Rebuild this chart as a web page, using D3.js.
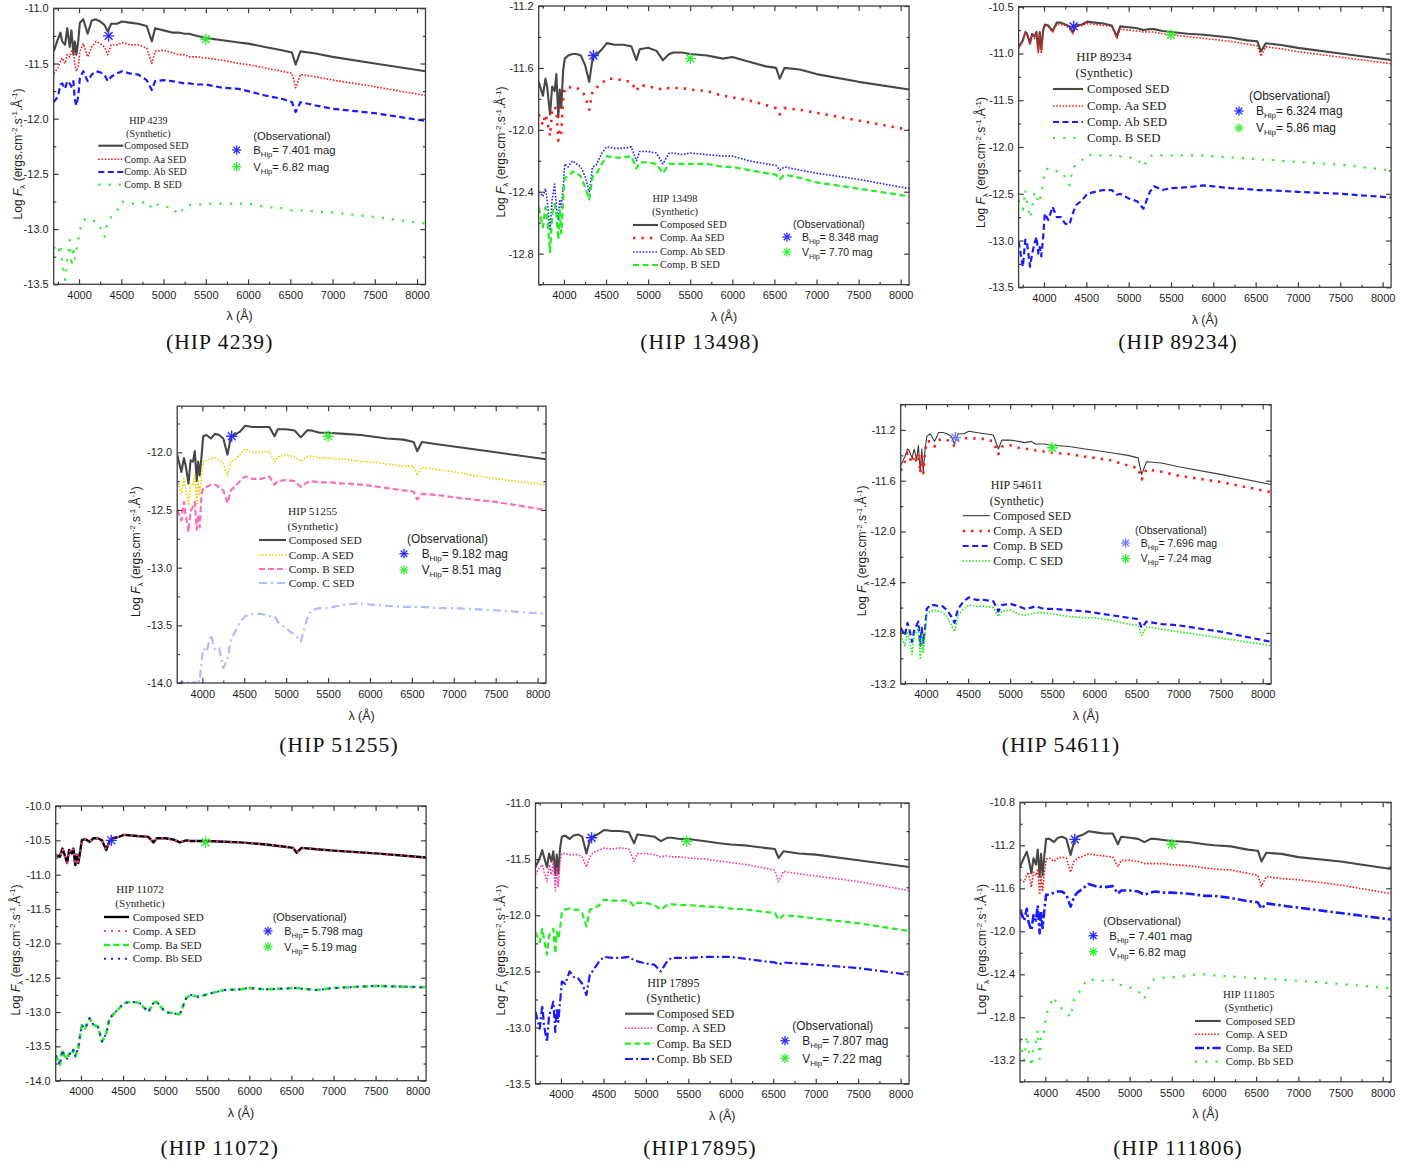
<!DOCTYPE html>
<html>
<head>
<meta charset="utf-8">
<script src="https://cdn.jsdelivr.net/npm/d3@7"></script>
<style>
  body { margin: 0; background: #fff; }
  svg { display: block; }
</style>
</head>
<body>
<svg id="fig" width="1422" height="1165"></svg>
<script>
// Wavelength grid (Å) shared by every synthetic SED below
const wavelengths = [3700, 3750, 3780, 3800, 3835, 3860, 3889, 3910, 3933, 3950, 3968, 3990, 4010, 4050, 4102, 4150, 4200, 4250, 4300, 4340, 4380, 4450, 4510, 4600, 4700, 4800, 4861, 4900, 5000, 5100, 5175, 5250, 5300, 5400, 5500, 5700, 5890, 6000, 6200, 6400, 6520, 6563, 6620, 6800, 7000, 7500, 8100];
const xTickValues = [4000, 4500, 5000, 5500, 6000, 6500, 7000, 7500, 8000];
const xMinorTicks = [3750, 4250, 4750, 5250, 5750, 6250, 6750, 7250, 7750];
const xDomain = [3700, 8100];

// ---- HIP 4239 (log F_lambda)
const hip4239Composed = [-11.39,-11.28,-11.22,-11.30,-11.33,-11.18,-11.35,-11.20,-11.42,-11.30,-11.42,-11.30,-11.13,-11.10,-11.23,-11.11,-11.10,-11.12,-11.15,-11.21,-11.14,-11.14,-11.12,-11.13,-11.14,-11.16,-11.30,-11.18,-11.20,-11.22,-11.22,-11.23,-11.23,-11.25,-11.27,-11.29,-11.31,-11.32,-11.35,-11.38,-11.40,-11.51,-11.39,-11.41,-11.44,-11.50,-11.57];
const hip4239CompAa = [-11.59,-11.54,-11.48,-11.45,-11.50,-11.42,-11.44,-11.39,-11.38,-11.51,-11.57,-11.53,-11.39,-11.32,-11.44,-11.35,-11.30,-11.32,-11.35,-11.42,-11.33,-11.33,-11.31,-11.33,-11.33,-11.36,-11.50,-11.39,-11.38,-11.40,-11.42,-11.42,-11.44,-11.44,-11.45,-11.47,-11.50,-11.51,-11.54,-11.57,-11.59,-11.72,-11.60,-11.62,-11.65,-11.71,-11.79];
const hip4239CompAb = [-11.85,-11.80,-11.69,-11.68,-11.73,-11.66,-11.68,-11.71,-11.66,-11.83,-11.88,-11.80,-11.63,-11.57,-11.66,-11.60,-11.57,-11.58,-11.60,-11.66,-11.62,-11.59,-11.57,-11.59,-11.60,-11.65,-11.74,-11.66,-11.65,-11.66,-11.67,-11.68,-11.68,-11.69,-11.69,-11.72,-11.73,-11.75,-11.79,-11.82,-11.85,-11.94,-11.85,-11.88,-11.91,-11.95,-12.02];
const hip4239CompB = [-13.16,-13.22,-13.14,-13.31,-13.46,-13.28,-13.10,-13.34,-13.16,-13.28,-13.19,-13.10,-13.01,-12.92,-12.90,-12.92,-12.93,-12.98,-13.07,-12.93,-12.89,-12.83,-12.75,-12.77,-12.77,-12.75,-12.81,-12.77,-12.80,-12.80,-12.87,-12.80,-12.78,-12.78,-12.77,-12.77,-12.77,-12.77,-12.80,-12.81,-12.83,-12.83,-12.83,-12.84,-12.85,-12.89,-12.95];

// ---- HIP 13498
const hip13498Composed = [-11.69,-11.78,-11.67,-11.72,-11.90,-11.72,-11.75,-11.64,-11.92,-11.74,-11.86,-11.62,-11.54,-11.52,-11.51,-11.51,-11.52,-11.58,-11.69,-11.54,-11.52,-11.48,-11.44,-11.45,-11.45,-11.46,-11.55,-11.48,-11.47,-11.49,-11.55,-11.51,-11.50,-11.50,-11.51,-11.52,-11.54,-11.53,-11.56,-11.59,-11.60,-11.67,-11.60,-11.61,-11.64,-11.69,-11.74];
const hip13498CompAa = [-11.90,-11.97,-11.90,-11.94,-12.04,-11.87,-11.85,-11.87,-12.07,-11.99,-12.02,-11.81,-11.73,-11.73,-11.72,-11.73,-11.74,-11.78,-11.87,-11.75,-11.73,-11.70,-11.67,-11.67,-11.68,-11.69,-11.75,-11.71,-11.72,-11.73,-11.74,-11.73,-11.73,-11.73,-11.74,-11.75,-11.78,-11.79,-11.81,-11.84,-11.86,-11.90,-11.86,-11.87,-11.89,-11.94,-12.00];
const hip13498CompAb = [-12.40,-12.43,-12.38,-12.45,-12.65,-12.45,-12.35,-12.50,-12.58,-12.45,-12.50,-12.37,-12.22,-12.24,-12.20,-12.22,-12.24,-12.30,-12.40,-12.24,-12.23,-12.15,-12.11,-12.12,-12.12,-12.11,-12.20,-12.14,-12.14,-12.15,-12.22,-12.15,-12.15,-12.16,-12.15,-12.16,-12.17,-12.17,-12.20,-12.22,-12.23,-12.26,-12.24,-12.26,-12.28,-12.32,-12.38];
const hip13498CompB = [-12.50,-12.63,-12.50,-12.56,-12.79,-12.54,-12.48,-12.54,-12.71,-12.52,-12.67,-12.45,-12.31,-12.30,-12.27,-12.28,-12.30,-12.37,-12.45,-12.30,-12.29,-12.22,-12.17,-12.18,-12.18,-12.17,-12.25,-12.21,-12.21,-12.22,-12.28,-12.22,-12.22,-12.22,-12.22,-12.22,-12.24,-12.24,-12.26,-12.28,-12.29,-12.32,-12.29,-12.31,-12.34,-12.38,-12.43];

// ---- HIP 89234
const hip89234Composed = [-10.93,-10.86,-10.77,-10.79,-10.89,-10.79,-10.82,-10.77,-10.96,-10.77,-10.96,-10.75,-10.69,-10.70,-10.76,-10.67,-10.67,-10.69,-10.71,-10.77,-10.70,-10.69,-10.66,-10.67,-10.68,-10.70,-10.82,-10.71,-10.72,-10.73,-10.75,-10.74,-10.74,-10.76,-10.77,-10.79,-10.80,-10.81,-10.83,-10.86,-10.87,-10.98,-10.89,-10.91,-10.94,-11.00,-11.07];
const hip89234CompAa = [-10.95,-10.87,-10.78,-10.80,-10.91,-10.80,-10.84,-10.78,-11.00,-10.79,-11.00,-10.77,-10.70,-10.71,-10.77,-10.69,-10.69,-10.70,-10.73,-10.79,-10.71,-10.70,-10.68,-10.69,-10.70,-10.71,-10.84,-10.74,-10.75,-10.76,-10.77,-10.77,-10.77,-10.79,-10.80,-10.82,-10.84,-10.85,-10.87,-10.90,-10.92,-11.03,-10.93,-10.95,-10.98,-11.04,-11.11];
const hip89234CompAb = [-13.01,-13.28,-12.99,-13.03,-13.28,-13.14,-13.03,-12.96,-13.14,-13.07,-13.17,-12.96,-12.71,-12.78,-12.64,-12.75,-12.75,-12.82,-12.83,-12.71,-12.62,-12.57,-12.50,-12.48,-12.46,-12.46,-12.51,-12.50,-12.55,-12.58,-12.66,-12.48,-12.42,-12.46,-12.44,-12.43,-12.41,-12.42,-12.44,-12.45,-12.46,-12.46,-12.46,-12.47,-12.48,-12.50,-12.54];
const hip89234CompB = [-12.57,-12.67,-12.46,-12.60,-12.76,-12.64,-12.48,-12.50,-12.60,-12.57,-12.50,-12.37,-12.25,-12.23,-12.23,-12.26,-12.26,-12.32,-12.41,-12.23,-12.19,-12.14,-12.08,-12.09,-12.09,-12.09,-12.11,-12.10,-12.11,-12.13,-12.21,-12.10,-12.08,-12.09,-12.09,-12.09,-12.09,-12.10,-12.11,-12.12,-12.13,-12.14,-12.13,-12.15,-12.16,-12.19,-12.25];

// ---- HIP 51255
const hip51255Composed = [-12.02,-12.17,-12.05,-12.11,-12.27,-12.07,-12.08,-11.99,-12.25,-12.08,-12.20,-12.04,-11.86,-11.85,-11.88,-11.84,-11.85,-11.88,-12.02,-11.87,-11.85,-11.82,-11.77,-11.78,-11.78,-11.78,-11.86,-11.80,-11.80,-11.81,-11.87,-11.81,-11.81,-11.83,-11.83,-11.84,-11.85,-11.86,-11.88,-11.89,-11.91,-11.99,-11.91,-11.93,-11.95,-12.00,-12.06];
const hip51255CompA = [-12.24,-12.36,-12.23,-12.30,-12.46,-12.27,-12.28,-12.20,-12.46,-12.25,-12.37,-12.20,-12.08,-12.07,-12.05,-12.05,-12.07,-12.10,-12.20,-12.08,-12.07,-12.02,-11.97,-12.00,-12.00,-11.99,-12.08,-12.04,-12.02,-12.04,-12.08,-12.04,-12.03,-12.05,-12.05,-12.06,-12.08,-12.08,-12.10,-12.12,-12.12,-12.20,-12.13,-12.15,-12.17,-12.23,-12.28];
const hip51255CompB = [-12.50,-12.59,-12.43,-12.54,-12.69,-12.51,-12.47,-12.43,-12.67,-12.54,-12.65,-12.37,-12.31,-12.30,-12.28,-12.28,-12.30,-12.33,-12.44,-12.33,-12.30,-12.25,-12.21,-12.23,-12.23,-12.21,-12.28,-12.25,-12.24,-12.25,-12.30,-12.26,-12.25,-12.26,-12.26,-12.27,-12.28,-12.29,-12.31,-12.33,-12.34,-12.41,-12.36,-12.37,-12.39,-12.43,-12.50];
const hip51255CompC = [-14.01,-13.99,-14.00,-13.98,-14.00,-13.99,-14.00,-13.99,-14.02,-13.98,-13.99,-13.82,-13.70,-13.73,-13.58,-13.71,-13.70,-13.87,-13.79,-13.63,-13.57,-13.47,-13.42,-13.40,-13.40,-13.42,-13.42,-13.47,-13.53,-13.58,-13.64,-13.44,-13.37,-13.35,-13.35,-13.32,-13.31,-13.32,-13.33,-13.34,-13.34,-13.34,-13.34,-13.35,-13.35,-13.37,-13.40];

// ---- HIP 54611
const hip54611Composed = [-11.48,-11.41,-11.35,-11.36,-11.42,-11.35,-11.44,-11.32,-11.53,-11.35,-11.53,-11.35,-11.25,-11.23,-11.29,-11.22,-11.22,-11.23,-11.25,-11.31,-11.23,-11.23,-11.21,-11.22,-11.23,-11.24,-11.35,-11.28,-11.28,-11.29,-11.30,-11.29,-11.31,-11.31,-11.32,-11.33,-11.35,-11.36,-11.38,-11.40,-11.42,-11.55,-11.45,-11.46,-11.49,-11.55,-11.63];
const hip54611CompA = [-11.52,-11.45,-11.38,-11.41,-11.46,-11.40,-11.45,-11.38,-11.54,-11.40,-11.54,-11.37,-11.29,-11.29,-11.33,-11.28,-11.27,-11.28,-11.29,-11.33,-11.28,-11.27,-11.26,-11.27,-11.27,-11.29,-11.39,-11.33,-11.32,-11.34,-11.35,-11.35,-11.36,-11.37,-11.38,-11.39,-11.41,-11.42,-11.44,-11.48,-11.50,-11.59,-11.51,-11.53,-11.56,-11.61,-11.69];
const hip54611CompB = [-12.76,-12.82,-12.72,-12.76,-12.87,-12.78,-12.74,-12.71,-12.90,-12.76,-12.88,-12.76,-12.61,-12.58,-12.58,-12.59,-12.59,-12.62,-12.67,-12.72,-12.61,-12.55,-12.52,-12.54,-12.54,-12.55,-12.63,-12.58,-12.57,-12.59,-12.61,-12.60,-12.59,-12.61,-12.61,-12.62,-12.63,-12.64,-12.66,-12.68,-12.69,-12.76,-12.71,-12.73,-12.74,-12.79,-12.87];
const hip54611CompC = [-12.82,-12.90,-12.79,-12.84,-12.97,-12.82,-12.79,-12.76,-13.01,-12.82,-12.96,-12.80,-12.65,-12.63,-12.62,-12.63,-12.64,-12.67,-12.74,-12.79,-12.66,-12.61,-12.58,-12.59,-12.59,-12.60,-12.67,-12.63,-12.62,-12.65,-12.66,-12.65,-12.64,-12.64,-12.65,-12.67,-12.68,-12.68,-12.70,-12.73,-12.74,-12.82,-12.75,-12.77,-12.79,-12.84,-12.90];

// ---- HIP 11072 (component A coincides with the composed SED, Ba with Bb)
const hip11072Composed = [-10.71,-10.74,-10.62,-10.69,-10.83,-10.64,-10.69,-10.62,-10.86,-10.71,-10.83,-10.67,-10.50,-10.48,-10.52,-10.47,-10.47,-10.50,-10.64,-10.51,-10.47,-10.45,-10.42,-10.43,-10.44,-10.45,-10.53,-10.47,-10.47,-10.49,-10.53,-10.50,-10.51,-10.51,-10.51,-10.52,-10.53,-10.54,-10.56,-10.59,-10.61,-10.68,-10.61,-10.63,-10.65,-10.69,-10.75];
const hip11072CompA = [-10.71,-10.74,-10.62,-10.69,-10.83,-10.64,-10.69,-10.62,-10.86,-10.71,-10.83,-10.67,-10.50,-10.48,-10.52,-10.47,-10.47,-10.50,-10.64,-10.51,-10.47,-10.45,-10.42,-10.43,-10.44,-10.45,-10.53,-10.47,-10.47,-10.49,-10.53,-10.50,-10.51,-10.51,-10.51,-10.52,-10.53,-10.54,-10.56,-10.59,-10.61,-10.68,-10.61,-10.63,-10.65,-10.69,-10.75];
const hip11072CompBa = [-13.63,-13.77,-13.55,-13.63,-13.68,-13.60,-13.63,-13.55,-13.65,-13.58,-13.53,-13.34,-13.19,-13.24,-13.09,-13.19,-13.21,-13.43,-13.31,-13.09,-13.04,-12.95,-12.87,-12.85,-12.87,-13.00,-12.87,-12.85,-13.00,-13.02,-13.03,-12.80,-12.75,-12.78,-12.74,-12.68,-12.67,-12.65,-12.67,-12.66,-12.65,-12.65,-12.66,-12.68,-12.65,-12.62,-12.64];
const hip11072CompBb = [-13.63,-13.77,-13.55,-13.63,-13.68,-13.60,-13.63,-13.55,-13.65,-13.58,-13.53,-13.34,-13.19,-13.24,-13.09,-13.19,-13.21,-13.43,-13.31,-13.09,-13.04,-12.95,-12.87,-12.85,-12.87,-13.00,-12.87,-12.85,-13.00,-13.02,-13.03,-12.80,-12.75,-12.78,-12.74,-12.68,-12.67,-12.65,-12.67,-12.66,-12.65,-12.65,-12.66,-12.68,-12.65,-12.62,-12.64];

// ---- HIP 17895
const hip17895Composed = [-11.57,-11.49,-11.42,-11.48,-11.57,-11.45,-11.52,-11.43,-11.64,-11.46,-11.63,-11.40,-11.30,-11.29,-11.32,-11.29,-11.28,-11.30,-11.45,-11.33,-11.30,-11.27,-11.24,-11.25,-11.25,-11.26,-11.36,-11.28,-11.29,-11.30,-11.34,-11.31,-11.31,-11.32,-11.32,-11.34,-11.36,-11.37,-11.38,-11.40,-11.41,-11.49,-11.43,-11.45,-11.46,-11.51,-11.57];
const hip17895CompA = [-11.64,-11.57,-11.55,-11.61,-11.70,-11.55,-11.64,-11.52,-11.78,-11.57,-11.75,-11.52,-11.45,-11.45,-11.46,-11.46,-11.46,-11.48,-11.57,-11.48,-11.44,-11.42,-11.40,-11.41,-11.40,-11.41,-11.52,-11.45,-11.45,-11.46,-11.48,-11.47,-11.48,-11.48,-11.49,-11.50,-11.52,-11.53,-11.55,-11.58,-11.60,-11.70,-11.61,-11.63,-11.65,-11.70,-11.78];
const hip17895CompBa = [-12.15,-12.24,-12.12,-12.21,-12.35,-12.18,-12.15,-12.12,-12.34,-12.15,-12.21,-12.12,-11.97,-11.95,-11.94,-11.95,-11.95,-11.98,-12.10,-11.95,-11.94,-11.91,-11.86,-11.87,-11.87,-11.87,-11.92,-11.89,-11.89,-11.91,-11.95,-11.91,-11.90,-11.91,-11.91,-11.92,-11.93,-11.94,-11.95,-11.97,-11.98,-12.04,-12.00,-12.01,-12.03,-12.07,-12.14];
const hip17895CompBb = [-12.86,-13.01,-12.80,-12.98,-13.13,-12.89,-12.83,-12.77,-13.04,-12.83,-12.95,-12.77,-12.59,-12.61,-12.50,-12.55,-12.56,-12.61,-12.71,-12.53,-12.49,-12.41,-12.37,-12.38,-12.38,-12.37,-12.40,-12.41,-12.43,-12.44,-12.50,-12.41,-12.38,-12.38,-12.38,-12.37,-12.37,-12.37,-12.39,-12.41,-12.42,-12.44,-12.42,-12.43,-12.44,-12.47,-12.53];

// ---- HIP 111805
const hip111805Composed = [-11.40,-11.31,-11.26,-11.32,-11.46,-11.32,-11.38,-11.24,-11.49,-11.28,-11.48,-11.29,-11.14,-11.14,-11.17,-11.13,-11.12,-11.14,-11.29,-11.17,-11.12,-11.10,-11.07,-11.08,-11.09,-11.09,-11.19,-11.12,-11.13,-11.14,-11.17,-11.14,-11.14,-11.15,-11.16,-11.17,-11.19,-11.20,-11.21,-11.24,-11.25,-11.35,-11.27,-11.28,-11.31,-11.35,-11.42];
const hip111805CompA = [-11.52,-11.54,-11.48,-11.45,-11.59,-11.45,-11.48,-11.42,-11.66,-11.48,-11.63,-11.45,-11.33,-11.32,-11.35,-11.32,-11.31,-11.32,-11.45,-11.35,-11.32,-11.30,-11.28,-11.29,-11.30,-11.31,-11.40,-11.34,-11.34,-11.35,-11.37,-11.37,-11.37,-11.37,-11.38,-11.39,-11.41,-11.42,-11.43,-11.46,-11.48,-11.58,-11.49,-11.51,-11.52,-11.57,-11.65];
const hip111805CompBa = [-11.80,-11.90,-11.79,-11.91,-11.99,-11.85,-11.90,-11.76,-12.02,-11.82,-11.97,-11.79,-11.66,-11.66,-11.64,-11.63,-11.63,-11.66,-11.77,-11.68,-11.64,-11.60,-11.56,-11.58,-11.59,-11.58,-11.65,-11.62,-11.62,-11.63,-11.66,-11.64,-11.63,-11.64,-11.64,-11.65,-11.67,-11.67,-11.69,-11.72,-11.73,-11.79,-11.74,-11.76,-11.78,-11.83,-11.89];
const hip111805CompBb = [-13.01,-13.20,-12.97,-13.09,-13.26,-13.06,-13.03,-12.92,-13.19,-13.00,-13.01,-12.91,-12.78,-12.69,-12.61,-12.70,-12.72,-12.75,-12.80,-12.63,-12.60,-12.50,-12.44,-12.46,-12.46,-12.45,-12.50,-12.50,-12.52,-12.55,-12.63,-12.47,-12.44,-12.43,-12.43,-12.41,-12.40,-12.41,-12.42,-12.43,-12.44,-12.44,-12.44,-12.45,-12.46,-12.49,-12.53];

// Hipparcos photometry converted to flux: [lambda (Å), log F]
const obsBHip = [[4350,-11.25],[4350,-11.52],[4350,-10.71],[4350,-11.86],[4350,-11.26],[4360,-10.50],[4360,-11.31],[4350,-11.145]];
const obsVHip = [[5500,-11.28],[5500,-11.54],[5500,-10.80],[5500,-11.86],[5500,-11.34],[5480,-10.53],[5480,-11.34],[5500,-11.19]];
const magBHip = ["7.401", "8.348", "6.324", "9.182", "7.696", "5.798", "7.807", "7.401"];
const magVHip = ["6.82", "7.70", "5.86", "8.51", "7.24", "5.19", "7.22", "6.82"];

const systemNames = ["HIP 4239", "HIP 13498", "HIP 89234", "HIP 51255", "HIP 54611", "HIP 11072", "HIP 17895", "HIP 111805"];
const captions = ["(HIP 4239)", "(HIP 13498)", "(HIP 89234)", "(HIP 51255)", "(HIP 54611)", "(HIP 11072)", "(HIP17895)", "(HIP 111806)"];

// ---------------- line styles
const GRAY = "#474747";
const st = {
  composed: { color: GRAY, width: 2.1, dash: null },
  composedThin: { color: "#3a3a3a", width: 1.1, dash: null },
  composedBlack: { color: "#000", width: 2.4, dash: null },
  redDense: { color: "#ff1a1a", width: 1.6, dash: "1.6,1.6" },
  redSparse: { color: "#ff1a1a", width: 2.6, dash: "2.4,6" },
  blueDash: { color: "#1a1aff", width: 2.2, dash: "6,3.5" },
  blueDotDense: { color: "#2222ff", width: 1.6, dash: "1.6,1.6" },
  greenSparse: { color: "#33ee33", width: 2.2, dash: "2.2,8" },
  greenDash: { color: "#22ee22", width: 2.2, dash: "6,3.5" },
  greenDotDense: { color: "#22ee22", width: 1.6, dash: "1.6,1.6" },
  yellowDense: { color: "#e4d600", width: 1.6, dash: "1.6,1.6" },
  pinkDash: { color: "#ff6db6", width: 2.2, dash: "6,3" },
  lavenderDashDot: { color: "#b4baff", width: 2.2, dash: "8,4,2,4" },
  pinkDotted: { color: "#ff3c8c", width: 2.2, dash: "2,5" },
  greenDashWide: { color: "#22ee22", width: 2.6, dash: "6,3.5" },
  blueDotted: { color: "#2222ff", width: 2.0, dash: "2,5" },
  magentaDense: { color: "#ff33aa", width: 1.6, dash: "1.6,1.6" },
  blueDashDot: { color: "#1a1aff", width: 2.2, dash: "8,3,2,3" },
  blueDashDotWide: { color: "#1a1aff", width: 2.6, dash: "9,3,2.5,3" }
};

// ---------------- panel layout
const panels = [
  { frame: { l: 53.7, r: 425.5, t: 8.3, b: 284.3 }, yDomain: [-13.5, -11.0], yStep: 0.5,
    series: [["Composed SED", hip4239Composed, st.composed], ["Comp. Aa SED", hip4239CompAa, st.redDense], ["Comp. Ab SED", hip4239CompAb, st.blueDash], ["Comp. B SED", hip4239CompB, st.greenSparse]],
    yTitle: [21.5, 154], xTitleY: 315, caption: [219.7, 348.5],
    leg: { cx: 148.3, ty: [121, 134], x1: 98.3, x2: 123.3, tx: 124.3, rows: [145.7, 159.3, 172, 184.7], fs: 10 },
    obs: { titleX: 253.3, ty: 136, mx: 236.7, tx: 253.3, rows: [150, 166.7], fs: 11.3 }, bColor: "#2b2bff" },
  { frame: { l: 538.7, r: 909.1, t: 6, b: 284.6 }, yDomain: [-13.0, -11.2], yStep: 0.4,
    series: [["Composed SED", hip13498Composed, st.composed], ["Comp. Aa SED", hip13498CompAa, st.redSparse], ["Comp. Ab SED", hip13498CompAb, st.blueDotDense], ["Comp. B SED", hip13498CompB, st.greenDash]],
    yTitle: [505, 152], xTitleY: 316, caption: [700, 348.5],
    leg: { cx: 675, ty: [199, 212], x1: 633, x2: 658, tx: 660, rows: [225, 238, 252, 265], fs: 10.4 },
    obs: { titleX: 793, ty: 224, mx: 787, tx: 802, rows: [237, 252], fs: 10.5 }, bColor: "#2b2bff" },
  { frame: { l: 1018.6, r: 1391.1, t: 6.7, b: 287.3 }, yDomain: [-13.5, -10.5], yStep: 0.5,
    series: [["Composed SED", hip89234Composed, st.composed], ["Comp. Aa SED", hip89234CompAa, st.redDense], ["Comp. Ab SED", hip89234CompAb, st.blueDash], ["Comp. B SED", hip89234CompB, st.greenSparse]],
    yTitle: [985, 162.5], xTitleY: 319.3, caption: [1178, 348.5],
    leg: { cx: 1104, ty: [57, 73], x1: 1053, x2: 1083, tx: 1087, rows: [89, 106, 122, 138], fs: 12.8 },
    obs: { titleX: 1249, ty: 96, mx: 1239, tx: 1256, rows: [111, 128], fs: 11.9 }, bColor: "#2b2bff" },
  { frame: { l: 177.2, r: 546.0, t: 406.2, b: 683 }, yDomain: [-14.0, -11.6], yStep: 0.5,
    series: [["Composed SED", hip51255Composed, st.composed], ["Comp. A SED", hip51255CompA, st.yellowDense], ["Comp. B SED", hip51255CompB, st.pinkDash], ["Comp. C SED", hip51255CompC, st.lavenderDashDot]],
    yTitle: [139.5, 551.7], xTitleY: 715, caption: [339, 752],
    leg: { cx: 312.7, ty: [511.7, 526], x1: 259, x2: 286, tx: 288.7, rows: [540, 555, 569, 583], fs: 11.4 },
    obs: { titleX: 407, ty: 538.7, mx: 404, tx: 421.7, rows: [553.7, 570], fs: 11.85 }, bColor: "#2b2bff" },
  { frame: { l: 900.7, r: 1271.1, t: 404.6, b: 683.7 }, yDomain: [-13.2, -11.0], yStep: 0.4,
    series: [["Composed SED", hip54611Composed, st.composedThin], ["Comp. A SED", hip54611CompA, st.redSparse], ["Comp. B SED", hip54611CompB, st.blueDash], ["Comp. C SED", hip54611CompC, st.greenDotDense]],
    yTitle: [866, 550.8], xTitleY: 715, caption: [1061, 752],
    leg: { cx: 1016.7, ty: [485, 501], x1: 962.7, x2: 990, tx: 993.3, rows: [515.7, 531, 546, 561], fs: 12.1 },
    obs: { titleX: 1135, ty: 530.7, mx: 1125.7, tx: 1140.7, rows: [543, 558.7], fs: 10.5 }, bColor: "#7480ff" },
  { frame: { l: 55.7, r: 426.1, t: 806, b: 1080.7 }, yDomain: [-14.0, -10.0], yStep: 0.5,
    series: [["Composed SED", hip11072Composed, st.composedBlack], ["Comp. A SED", hip11072CompA, st.pinkDotted], ["Comp. Ba SED", hip11072CompBa, st.greenDashWide], ["Comp. Bb SED", hip11072CompBb, st.blueDotted]],
    yTitle: [19.5, 950], xTitleY: 1112.3, caption: [219.7, 1155],
    leg: { cx: 140, ty: [889.7, 903.3], x1: 104, x2: 129, tx: 132.7, rows: [917, 931, 945, 958.7], fs: 11.1 },
    obs: { titleX: 272.7, ty: 917.3, mx: 268, tx: 284.3, rows: [931, 946.7], fs: 10.8 }, bColor: "#2b2bff" },
  { frame: { l: 535.5, r: 909.1, t: 803, b: 1083.7 }, yDomain: [-13.5, -11.0], yStep: 0.5,
    series: [["Composed SED", hip17895Composed, st.composed], ["Comp. A SED", hip17895CompA, st.magentaDense], ["Comp. Ba SED", hip17895CompBa, st.greenDash], ["Comp. Bb SED", hip17895CompBb, st.blueDashDot]],
    yTitle: [505, 950], xTitleY: 1115.7, caption: [700, 1155],
    leg: { cx: 673.3, ty: [983.3, 998.3], x1: 625, x2: 654, tx: 656.7, rows: [1013.7, 1028.3, 1043.7, 1059], fs: 12.1 },
    obs: { titleX: 792.3, ty: 1026, mx: 785, tx: 802.3, rows: [1040.7, 1058.3], fs: 11.85 }, bColor: "#2b2bff" },
  { frame: { l: 1020.0, r: 1391.1, t: 802.3, b: 1081.8 }, yDomain: [-13.4, -10.8], yStep: 0.4,
    series: [["Composed SED", hip111805Composed, st.composed], ["Comp. A SED", hip111805CompA, st.redDense], ["Comp. Ba SED", hip111805CompBa, st.blueDashDotWide], ["Comp. Bb SED", hip111805CompBb, st.greenSparse]],
    yTitle: [986, 949.3], xTitleY: 1113.3, caption: [1178, 1155],
    leg: { cx: 1248.7, ty: [994, 1007.3], x1: 1195, x2: 1220.7, tx: 1225.7, rows: [1021, 1034.3, 1048, 1061.7], fs: 10.8 },
    obs: { titleX: 1103.3, ty: 921, mx: 1093.3, tx: 1109.3, rows: [935.7, 951.7], fs: 11.4 }, bColor: "#2b2bff" }
];

const SANS = "'Liberation Sans', Arial, Helvetica, sans-serif";
const SERIF = "'Liberation Serif', 'Times New Roman', serif";
const FRAME = "#3c3c3c";
const V_COLOR = "#33ee33";
const fmt1 = v => (Math.round(v * 10) / 10).toFixed(1);

const svg = d3.select("#fig");
svg.append("rect").attr("width", 1422).attr("height", 1165).attr("fill", "#fff");
const defs = svg.append("defs");

function styleLine(sel, s) {
  sel.attr("fill", "none").attr("stroke", s.color).attr("stroke-width", s.width)
    .attr("stroke-linejoin", "round").attr("stroke-linecap", "butt");
  if (s.dash) sel.attr("stroke-dasharray", s.dash);
  return sel;
}

function asterisk(g, cx, cy, r, color, w) {
  [0, 45, 90, 135].forEach(a => {
    const rad = a * Math.PI / 180;
    const dx = Math.cos(rad) * r, dy = Math.sin(rad) * r;
    g.append("line").attr("x1", cx - dx).attr("y1", cy - dy).attr("x2", cx + dx).attr("y2", cy + dy)
      .attr("stroke", color).attr("stroke-width", w);
  });
}

panels.forEach((p, i) => {
  const g = svg.append("g");
  const f = p.frame;
  const x = d3.scaleLinear().domain(xDomain).range([f.l, f.r]);
  const y = d3.scaleLinear().domain(p.yDomain).range([f.b, f.t]);

  // y ticks: labelled majors every yStep, minors halfway between
  const half = p.yStep / 2;
  const n = Math.floor((p.yDomain[1] - p.yDomain[0]) / half + 1e-6);
  const all = [];
  for (let k = 0; k <= n; k++) all.push(+(p.yDomain[0] + k * half).toFixed(3));
  const isMajor = v => Math.abs(v / p.yStep - Math.round(v / p.yStep)) < 1e-6;
  const yMajor = all.filter(isMajor);
  const yMinor = all.filter(v => !isMajor(v));

  // clip region for the spectra
  const cid = "clip" + i;
  defs.append("clipPath").attr("id", cid).append("rect")
    .attr("x", f.l).attr("y", f.t).attr("width", f.r - f.l).attr("height", f.b - f.t);

  const line = d3.line().x((d, k) => x(wavelengths[k])).y(d => y(d));
  const lines = g.append("g").attr("clip-path", `url(#${cid})`);
  p.series.forEach(s => {
    styleLine(lines.append("path").datum(s[1]).attr("d", line), s[2]);
  });

  // Hipparcos points
  asterisk(lines, x(obsBHip[i][0]), y(obsBHip[i][1]), 5.6, p.bColor, 1.4);
  asterisk(lines, x(obsVHip[i][0]), y(obsVHip[i][1]), 5.6, V_COLOR, 1.4);

  // axes with inward ticks on all four sides
  const axisStyle = sel => {
    sel.select(".domain").remove();
    sel.selectAll("line").attr("stroke", FRAME).attr("stroke-width", 1.2);
    sel.selectAll("text").attr("font-family", SANS).attr("font-size", 11).attr("fill", "#1e1e1e");
  };
  g.append("g").attr("transform", `translate(0,${f.b})`)
    .call(d3.axisBottom(x).tickValues(xTickValues).tickSizeInner(-5).tickSizeOuter(0).tickPadding(7).tickFormat(d3.format("d")))
    .call(axisStyle);
  g.append("g").attr("transform", `translate(0,${f.b})`)
    .call(d3.axisBottom(x).tickValues(xMinorTicks).tickSizeInner(-2.6).tickSizeOuter(0).tickFormat(""))
    .call(axisStyle);
  g.append("g").attr("transform", `translate(0,${f.t})`)
    .call(d3.axisTop(x).tickValues(xTickValues).tickSizeInner(-5).tickSizeOuter(0).tickFormat(""))
    .call(axisStyle);
  g.append("g").attr("transform", `translate(0,${f.t})`)
    .call(d3.axisTop(x).tickValues(xMinorTicks).tickSizeInner(-2.6).tickSizeOuter(0).tickFormat(""))
    .call(axisStyle);
  g.append("g").attr("transform", `translate(${f.l},0)`)
    .call(d3.axisLeft(y).tickValues(yMajor).tickSizeInner(-5).tickSizeOuter(0).tickPadding(5).tickFormat(fmt1))
    .call(axisStyle);
  g.append("g").attr("transform", `translate(${f.l},0)`)
    .call(d3.axisLeft(y).tickValues(yMinor).tickSizeInner(-2.6).tickSizeOuter(0).tickFormat(""))
    .call(axisStyle);
  g.append("g").attr("transform", `translate(${f.r},0)`)
    .call(d3.axisRight(y).tickValues(yMajor).tickSizeInner(-5).tickSizeOuter(0).tickFormat(""))
    .call(axisStyle);
  g.append("g").attr("transform", `translate(${f.r},0)`)
    .call(d3.axisRight(y).tickValues(yMinor).tickSizeInner(-2.6).tickSizeOuter(0).tickFormat(""))
    .call(axisStyle);

  g.append("rect").attr("x", f.l).attr("y", f.t).attr("width", f.r - f.l).attr("height", f.b - f.t)
    .attr("fill", "none").attr("stroke", FRAME).attr("stroke-width", 1.3);

  // axis titles
  g.append("text").attr("x", (f.l + f.r) / 2).attr("y", p.xTitleY + 4.5)
    .attr("text-anchor", "middle").attr("font-family", SANS).attr("font-size", 12.5).attr("fill", "#1e1e1e")
    .text("λ (Å)");

  const yt = g.append("text").attr("transform", `translate(${p.yTitle[0]},${p.yTitle[1]}) rotate(-90)`)
    .attr("text-anchor", "middle").attr("font-family", SANS).attr("font-size", 12).attr("fill", "#1e1e1e");
  yt.append("tspan").text("Log ");
  yt.append("tspan").attr("font-style", "italic").text("F");
  yt.append("tspan").attr("font-size", 8).attr("dy", 3).text("λ");
  yt.append("tspan").attr("dy", -3).text(" (ergs.cm");
  yt.append("tspan").attr("font-size", 8).attr("dy", -4.5).text("-2");
  yt.append("tspan").attr("dy", 4.5).text(".s");
  yt.append("tspan").attr("font-size", 8).attr("dy", -4.5).text("-1");
  yt.append("tspan").attr("dy", 4.5).text(".Å");
  yt.append("tspan").attr("font-size", 8).attr("dy", -4.5).text("-1");
  yt.append("tspan").attr("dy", 4.5).text(")");

  // synthetic legend
  const L = p.leg;
  const lg = g.append("g").attr("font-family", SERIF).attr("font-size", L.fs).attr("fill", "#222");
  lg.append("text").attr("x", L.cx).attr("y", L.ty[0] + L.fs * 0.33).attr("text-anchor", "middle").text(systemNames[i]);
  lg.append("text").attr("x", L.cx).attr("y", L.ty[1] + L.fs * 0.33).attr("text-anchor", "middle").text("(Synthetic)");
  p.series.forEach((s, k) => {
    const ry = L.rows[k];
    styleLine(lg.append("line").attr("x1", L.x1).attr("x2", L.x2).attr("y1", ry).attr("y2", ry), s[2]);
    lg.append("text").attr("x", L.tx).attr("y", ry + L.fs * 0.33).text(s[0]);
  });

  // observational legend
  const O = p.obs;
  const og = g.append("g").attr("font-family", SANS).attr("font-size", O.fs).attr("fill", "#1e1e1e");
  og.append("text").attr("x", O.titleX).attr("y", O.ty + O.fs * 0.36).text("(Observational)");
  [["B", magBHip[i], p.bColor], ["V", magVHip[i], V_COLOR]].forEach((row, k) => {
    const ry = O.rows[k];
    asterisk(og, O.mx, ry, 4.6, row[2], 1.3);
    const t = og.append("text").attr("x", O.tx).attr("y", ry + O.fs * 0.36);
    t.append("tspan").text(row[0]);
    t.append("tspan").attr("font-size", O.fs * 0.68).attr("dy", 3).text("Hip");
    t.append("tspan").attr("dy", -3).text(`= ${row[1]} mag`);
  });

  // caption under the panel
  svg.append("text").attr("x", p.caption[0]).attr("y", p.caption[1])
    .attr("text-anchor", "middle").attr("font-family", SERIF).attr("font-size", 21.5)
    .attr("letter-spacing", 1.1).attr("fill", "#111")
    .text(captions[i]);
});
</script>
</body>
</html>
